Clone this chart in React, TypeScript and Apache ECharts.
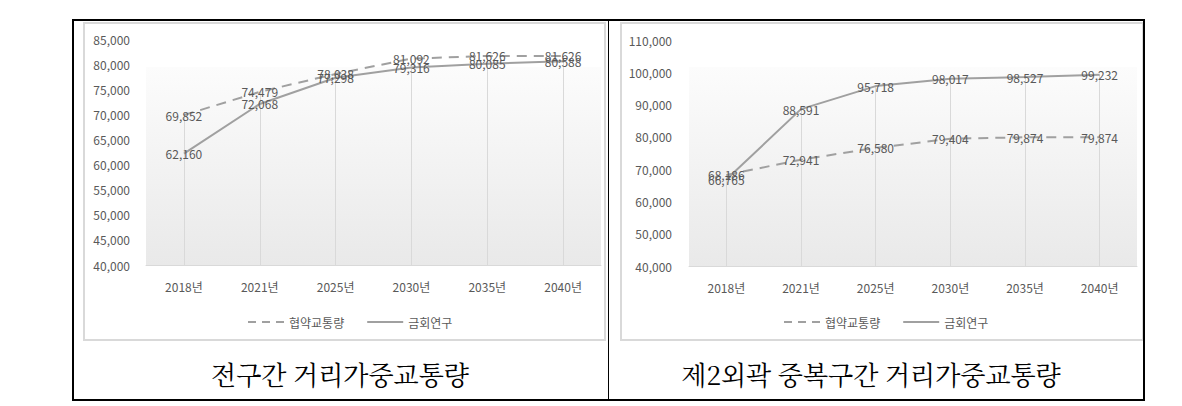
import React, { useEffect, useRef } from "react";
import * as echarts from "echarts";

const categories = ["2018년", "2021년", "2025년", "2030년", "2035년", "2040년"];
const seriesNames = ["협약교통량", "금회연구"];

const leftAgreement = [69852, 74479, 78038, 81092, 81626, 81626];
const leftStudy = [62160, 72068, 77298, 79316, 80085, 80588];
const rightAgreement = [68186, 72941, 76580, 79404, 79874, 79874];
const rightStudy = [66765, 88591, 95718, 98017, 98527, 99232];

const leftYMin = 40000;
const leftYMax = 85000;
const leftYStep = 5000;
const rightYMin = 40000;
const rightYMax = 110000;
const rightYStep = 10000;

const captions = ["전구간 거리가중교통량", "제2외곽 중복구간 거리가중교통량"];

const FONT = "'Noto Sans CJK KR', 'Noto Sans', sans-serif";
const TXT = "#595959";
const LINE = "#a0a0a0";

const fmt = (v: number) => Number(v).toLocaleString("en-US");

function dropLines(a: number[], b: number[], yMin: number) {
  return categories.map((c, i) => [
    { coord: [c, Math.max(a[i], b[i])] },
    { coord: [c, yMin] },
  ]);
}

function lineSeries(
  name: string,
  data: number[],
  idx: number,
  dashed: boolean,
  drops?: any
) {
  const s: any = {
    type: "line",
    name,
    data,
    xAxisIndex: idx,
    yAxisIndex: idx,
    symbol: "circle",
    symbolSize: 1,
    showSymbol: true,
    lineStyle: { color: LINE, width: 2, type: dashed ? [10, 7] : "solid" },
    itemStyle: { color: "rgba(0,0,0,0)", borderWidth: 0 },
    label: {
      show: true,
      position: "inside",
      color: TXT,
      opacity: 1,
      fontSize: 12,
      fontFamily: FONT,
      formatter: (p: any) => fmt(p.value),
    },
    z: 3,
  };
  if (drops) {
    s.markLine = {
      silent: true,
      symbol: "none",
      label: { show: false },
      lineStyle: { color: "#d9d9d9", width: 1, type: "solid" },
      data: drops,
      z: 1,
    };
  }
  return s;
}

function yAxis(idx: number, min: number, max: number, step: number, margin: number) {
  return {
    type: "value",
    gridIndex: idx,
    min,
    max,
    interval: step,
    axisLine: { show: false },
    axisTick: { show: false },
    splitLine: { show: false },
    axisLabel: { color: TXT, fontSize: 12, fontFamily: FONT, margin, formatter: fmt },
  };
}

function xAxis(idx: number) {
  return {
    type: "category",
    gridIndex: idx,
    data: categories,
    boundaryGap: true,
    axisLine: { lineStyle: { color: "#d9d9d9", width: 1 } },
    axisTick: { show: false },
    splitLine: { show: false },
    axisLabel: { color: TXT, fontSize: 12, fontFamily: FONT, margin: 15 },
  };
}

function legend(left: number) {
  return {
    left,
    top: 311,
    data: [
      { name: seriesNames[0], lineStyle: { type: [8, 6], color: LINE, width: 2 } },
      { name: seriesNames[1] },
    ],
    itemWidth: 36,
    itemHeight: 10,
    itemGap: 22,
    itemStyle: { color: "rgba(0,0,0,0)", borderWidth: 0 },
    textStyle: { color: TXT, fontSize: 12, fontFamily: FONT },
    selectedMode: false,
  };
}

const bgGradient = () =>
  new echarts.graphic.LinearGradient(0, 0, 0, 1, [
    { offset: 0, color: "#fcfcfc" },
    { offset: 1, color: "#e9e9e9" },
  ]);

export default function App() {
  const ref = useRef<HTMLDivElement>(null);

  useEffect(() => {
    if (!ref.current) return;
    const chart = echarts.init(ref.current, null, { renderer: "svg" });
    chart.setOption({
      animation: false,
      backgroundColor: "#ffffff",
      grid: [
        { left: 146, right: 581, top: 39, bottom: 141 },
        { left: 689, right: 45, top: 40, bottom: 140 },
      ],
      xAxis: [xAxis(0), xAxis(1)],
      yAxis: [
        yAxis(0, leftYMin, leftYMax, leftYStep, 16),
        yAxis(1, rightYMin, rightYMax, rightYStep, 17),
      ],
      legend: [legend(242), legend(778)],
      series: [
        lineSeries(seriesNames[0], leftAgreement, 0, true),
        lineSeries(seriesNames[1], leftStudy, 0, false, dropLines(leftAgreement, leftStudy, leftYMin)),
        lineSeries(seriesNames[0], rightAgreement, 1, true),
        lineSeries(seriesNames[1], rightStudy, 1, false, dropLines(rightAgreement, rightStudy, rightYMin)),
      ],
      graphic: [
        { type: "rect", z: -10, silent: true, shape: { x: 146, y: 67, width: 455, height: 198 }, style: { fill: bgGradient() } },
        { type: "rect", z: -10, silent: true, shape: { x: 689, y: 67, width: 448, height: 199 }, style: { fill: bgGradient() } },
        { type: "rect", z: -5, silent: true, shape: { x: 84, y: 23, width: 521, height: 317 }, style: { fill: "none", stroke: "#d9d9d9", lineWidth: 2 } },
        { type: "rect", z: -5, silent: true, shape: { x: 621, y: 23, width: 522, height: 317 }, style: { fill: "none", stroke: "#d9d9d9", lineWidth: 2 } },
        { type: "rect", z: 10, silent: true, shape: { x: 73, y: 20, width: 1071, height: 380 }, style: { fill: "none", stroke: "#000000", lineWidth: 2 } },
        { type: "line", z: 10, silent: true, shape: { x1: 608.5, y1: 20, x2: 608.5, y2: 400 }, style: { stroke: "#000000", lineWidth: 1 } },
        {
          type: "text", z: 10, silent: true, x: 340, y: 373,
          style: { text: captions[0], fill: "#000000", fontSize: 26, fontFamily: "'Noto Serif CJK KR', 'Noto Sans CJK KR', serif", align: "center", verticalAlign: "middle" },
        },
        {
          type: "text", z: 10, silent: true, x: 871, y: 373,
          style: { text: captions[1], fill: "#000000", fontSize: 26, fontFamily: "'Noto Serif CJK KR', 'Noto Sans CJK KR', serif", align: "center", verticalAlign: "middle" },
        },
      ],
    });
    return () => chart.dispose();
  }, []);

  return (
    <div
      ref={ref}
      style={{ position: "absolute", left: 0, top: 0, width: 1182, height: 406 }}
    />
  );
}
